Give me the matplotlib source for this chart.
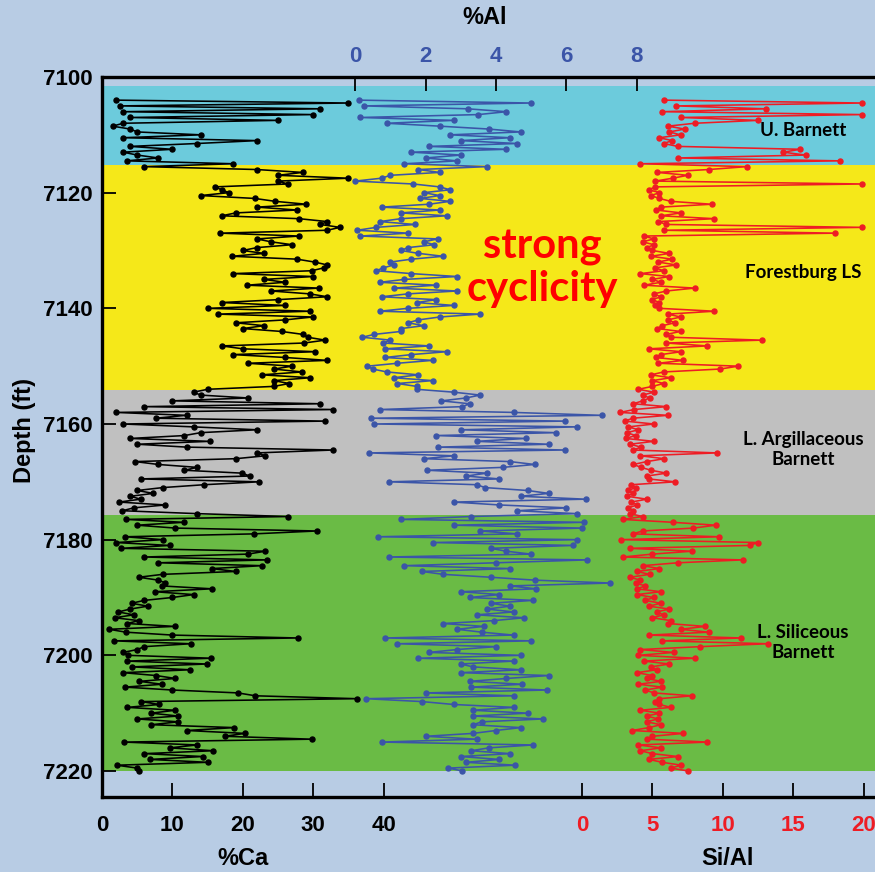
import numpy as np
import matplotlib
matplotlib.use("Agg")
import matplotlib.pyplot as plt

# core samples every half foot from 7104 ft down to 7220 ft
depth_top = 7104.0
sample_step = 0.5

ca_pct = [
    2, 35, 2.5, 31, 3, 30, 4, 25, 3, 1.5,
    4, 5, 14, 3, 22, 13.5, 4, 10, 3, 5,
    8, 3.5, 18.6, 6, 22, 28.5, 25, 35, 25, 26.4,
    16, 17, 18, 14, 21.7, 24.6, 29, 22, 27.7, 19,
    17, 28, 32, 31, 33.8, 32, 16.8, 28, 22, 24,
    27, 22, 20, 23, 18.5, 27.7, 30.2, 32, 31.5, 29.8,
    18.6, 30, 23, 26, 20.6, 30.8, 24, 29.5, 32, 25,
    17, 26, 15, 29.5, 16.5, 29.9, 26, 19, 23, 20,
    25.5, 28.5, 29.2, 31.7, 28.7, 17, 20, 30.3, 18.6, 26,
    32, 20.7, 27, 24.4, 28.4, 22.7, 29.6, 24.4, 26.6, 24.4,
    15, 13, 14, 20.7, 10, 31, 6, 32.8, 2, 12,
    7.6, 31.7, 3, 13, 22, 14, 11.7, 4, 15.3, 5,
    12, 32.8, 22, 23.2, 19, 4.7, 8, 13.5, 11.7, 19.9,
    21, 5.5, 22.3, 14.5, 8.6, 5, 7.3, 4, 5.5, 2.4,
    9, 4.5, 2.9, 13.5, 26.4, 3.4, 11.6, 5, 10.4, 30.5,
    21.6, 3.3, 8.6, 2, 9.6, 2.7, 23.2, 20.7, 6, 23.4,
    8, 22.7, 15.6, 19, 8.6, 5.2, 8, 9, 8.5, 15.6,
    7.5, 13, 10, 6, 4.2, 6.5, 4, 2.3, 4.5, 1.8,
    5.2, 3.6, 10.3, 1, 3.4, 10, 27.8, 1.7, 12.6, 6,
    5, 3, 3.7, 15.5, 3.6, 14.9, 4.3, 12.5, 3, 7.7,
    10.4, 5.3, 8.5, 3.3, 10, 19.3, 21.8, 36.2, 5.6, 8.1,
    3.6, 10.4, 7, 10.8, 5, 10.8, 7, 18.8, 12, 20.3,
    17.4, 29.8, 3.1, 13.5, 9.6, 15.8, 6, 14.3, 6.8, 15,
    2.1, 5, 5.2,
]

al_pct = [
    0.1, 5.0, 0.25, 3.2, 4.3, 3.5, 0.15, 2.8, 0.9, 2.4,
    3.8, 4.7, 2.7, 4.4, 3.0, 4.6, 2.1, 4.3, 1.6, 3.0,
    2.0, 2.9, 1.4, 3.75, 1.8, 2.4, 1.0, 0.75, 0.0, 1.65,
    2.4, 2.7, 1.95, 2.4, 1.85, 2.7, 2.1, 0.75, 2.4, 1.3,
    2.6, 1.3, 0.7, 1.7, 0.6, 0.06, 1.5, 0.15, 2.35, 1.95,
    2.25, 1.5, 1.3, 1.8, 2.5, 1.6, 1.0, 1.1, 0.8, 0.6,
    1.6, 2.9, 1.4, 0.7, 2.3, 1.1, 2.9, 1.5, 0.75, 2.3,
    1.75, 2.8, 1.5, 0.7, 3.55, 2.4, 1.8, 1.5, 1.95, 1.3,
    1.3, 0.55, 0.2, 1.0, 0.8, 2.1, 0.85, 2.6, 1.6, 0.85,
    2.2, 1.2, 0.35, 0.5, 0.9, 1.8, 1.1, 2.2, 1.2, 1.75,
    1.75, 2.8, 3.55, 3.15, 2.45, 3.25, 3.05, 0.7, 4.5, 7.0,
    0.45, 5.95, 0.55, 6.3, 3.0, 5.7, 2.3, 4.85, 3.45, 5.5,
    2.35, 5.95, 0.4, 2.8, 1.95, 4.4, 5.1, 4.2, 2.05, 3.75,
    3.15, 4.1, 0.95, 3.45, 3.7, 4.9, 5.5, 4.7, 6.55, 2.8,
    4.1, 6.0, 4.6, 6.3, 3.3, 1.3, 6.5, 2.8, 6.45, 3.55,
    4.6, 0.65, 6.3, 2.2, 6.2, 3.85, 4.3, 5.0, 0.95, 6.6,
    4.0, 1.4, 4.4, 1.9, 2.5, 3.85, 5.1, 7.25, 4.4, 5.15,
    3.0, 4.1, 3.25, 5.05, 3.85, 4.4, 3.75, 4.5, 3.45, 4.8,
    3.95, 2.5, 3.65, 2.9, 3.6, 4.5, 0.85, 5.0, 1.2, 4.0,
    2.9, 2.1, 4.7, 1.8, 4.5, 3.0, 3.35, 4.7, 3.0, 5.5,
    4.3, 3.25, 4.75, 3.3, 5.45, 2.0, 4.5, 0.3, 1.9, 2.8,
    4.5, 3.35, 4.9, 3.35, 5.35, 3.6, 3.35, 4.7, 4.0, 3.35,
    2.0, 3.45, 0.75, 5.05, 3.8, 3.3, 4.4, 3.0, 4.1, 3.15,
    4.55, 2.65, 3.05,
]

si_al = [
    5.85, 19.9, 6.7, 13.1, 5.7, 19.9, 7.05, 12.5, 8.0, 6.1,
    7.3, 6.2, 7.0, 5.5, 6.4, 5.8, 6.8, 15.5, 14.3, 15.9,
    6.8, 18.3, 4.15, 11.7, 9.0, 5.35, 7.5, 6.45, 5.2, 19.9,
    5.2, 4.75, 5.5, 4.9, 5.5, 6.3, 9.2, 5.6, 5.25, 7.05,
    5.6, 9.4, 5.4, 6.0, 19.9, 5.85, 18.0, 4.4, 5.1, 4.3,
    5.1, 4.6, 5.0, 6.2, 4.9, 6.4, 5.4, 6.7, 5.2, 5.8,
    4.15, 6.2, 5.0, 5.6, 4.4, 8.0, 6.0, 5.1, 5.6, 5.0,
    5.5, 5.2, 5.5, 9.4, 6.1, 7.0, 6.1, 6.6, 5.7, 5.35,
    7.0, 6.0, 6.3, 12.75, 6.0, 8.9, 4.75, 7.05, 5.6, 5.25,
    7.2, 5.4, 11.1, 9.8, 5.8, 4.9, 6.3, 5.0, 5.8, 5.0,
    4.0, 5.1, 4.3, 4.8, 4.3, 3.65, 6.0, 3.7, 2.7, 6.1,
    3.6, 3.05, 5.1, 3.3, 4.0, 3.2, 3.8, 3.1, 5.1, 3.4,
    4.2, 3.6, 9.6, 4.15, 5.85, 4.6, 3.65, 4.2, 4.9, 6.0,
    4.6, 4.75, 6.6, 3.5, 3.8, 3.3, 3.6, 3.2, 4.6, 3.5,
    3.9, 3.3, 3.6, 3.4, 4.3, 2.9, 6.45, 9.5, 7.9, 4.3,
    3.6, 9.7, 2.8, 12.5, 11.9, 3.4, 7.8, 5.0, 2.9, 11.4,
    6.8, 4.3, 5.5, 3.9, 4.8, 3.4, 4.15, 3.8, 4.5, 3.9,
    5.6, 3.9, 5.1, 4.5, 5.6, 4.75, 6.2, 5.3, 5.8, 5.0,
    6.3, 6.1, 8.75, 7.0, 9.0, 4.75, 11.3, 5.7, 13.2, 8.4,
    4.15, 6.5, 4.0, 8.0, 4.4, 6.2, 4.9, 5.3, 3.9, 5.0,
    4.6, 5.6, 4.0, 5.7, 4.5, 5.1, 7.8, 5.5, 5.2, 5.5,
    6.3, 4.15, 5.5, 4.6, 5.4, 4.6, 5.6, 4.75, 3.55, 7.2,
    5.0, 4.6, 8.9, 4.0, 5.6, 4.15, 5.0, 6.8, 4.75, 5.7,
    7.05, 6.3, 7.55,
]

# stratigraphic units (top, base in ft) and their fill
unit_names = ["U. Barnett", "Forestburg LS", "L. Argillaceous\nBarnett", "L. Siliceous\nBarnett"]
unit_tops = [7101.5, 7115.3, 7154.1, 7175.8]
unit_bases = [7115.3, 7154.1, 7175.8, 7220.0]
unit_colors = ["#6ccbdc", "#f5e819", "#c0c0c0", "#6abb45"]
unit_label_depths = [7109.2, 7133.8, 7164.4, 7197.8]

ca_ticks = [0, 10, 20, 30, 40]
al_ticks = [0, 2, 4, 6, 8]
si_ticks = [0, 5, 10, 15, 20]

depth = depth_top + sample_step * np.arange(len(ca_pct))

bg = "#b8cce4"
blue = "#3b55a8"
red = "#ee1c24"
num_font = ["Liberation Sans Narrow", "Liberation Sans", "DejaVu Sans"]
label_font = "Lato"

fig = plt.figure(figsize=(8.75, 8.72), dpi=100, facecolor=bg)
ax = fig.add_axes([0.1166, 0.086, 0.8834, 0.8257])
ax.set_facecolor(bg)
ax.set_ylim(7224.5, 7100)
ax.set_xlim(0, 109.8)

for top, base, col in zip(unit_tops, unit_bases, unit_colors):
    ax.axhspan(top, base, color=col, lw=0, zorder=0)

ax_al = ax.twiny()
ax_al.set_xlim(-7.19, 14.77)
ax_si = ax.twiny()
ax_si.set_xlim(-34.09, 20.81)

style = dict(marker="o", markersize=3.6, linewidth=1.15)
ax.plot(ca_pct, depth, color="black", **style, zorder=3)
ax_al.plot(al_pct, depth, color=blue, **style, zorder=3)
ax_si.plot(si_al, depth, color=red, **style, zorder=3)

for a in (ax, ax_al, ax_si):
    for s in a.spines.values():
        s.set_visible(False)
for side in ("left", "top", "bottom"):
    ax.spines[side].set_visible(True)
    ax.spines[side].set_linewidth(2.4)

tick_kw = dict(direction="in", length=10, width=1.3)
ax.set_yticks([7100, 7120, 7140, 7160, 7180, 7200, 7220])
ax.tick_params(axis="y", pad=7, **tick_kw)
ax.set_xticks(ca_ticks)
ax.tick_params(axis="x", bottom=True, top=False, pad=13, **tick_kw)

ax_al.set_xticks(al_ticks)
ax_al.tick_params(axis="x", top=True, bottom=False, labelcolor=blue, pad=7, **tick_kw)

ax_si.xaxis.set_ticks_position("bottom")
ax_si.set_xticks(si_ticks)
ax_si.tick_params(axis="x", bottom=True, top=False, labelbottom=True,
                  labeltop=False, labelcolor=red, pad=13, **tick_kw)

for a in (ax, ax_al, ax_si):
    for lab in a.get_xticklabels() + a.get_yticklabels():
        lab.set_fontfamily(num_font)
        lab.set_fontweight("bold")
        lab.set_fontsize(16)

txt = dict(fontfamily=num_font, fontweight="bold", fontsize=17, ha="center", va="center")
fig.text(485 / 875, 1 - 18 / 872, "%Al", **txt)
fig.text(243 / 875, 1 - 858 / 872, "%Ca", **txt)
fig.text(727 / 875, 1 - 858 / 872, "Si/Al", **txt)
fig.text(25 / 875, 1 - 430 / 872, "Depth (ft)", rotation=90, **txt)

for name, d in zip(unit_names, unit_label_depths):
    ax_si.text(15.7, d, name, fontfamily=label_font, fontweight="bold",
               fontsize=13.5, ha="center", va="center", linespacing=1.2, zorder=5)

ax_si.text(-2.8, 7133.0, "strong\ncyclicity", color="#ff0000", fontfamily=label_font,
           fontweight="bold", fontsize=30, ha="center", va="center",
           linespacing=1.15, zorder=5)

fig.savefig("out.png", dpi=100, facecolor=bg)
